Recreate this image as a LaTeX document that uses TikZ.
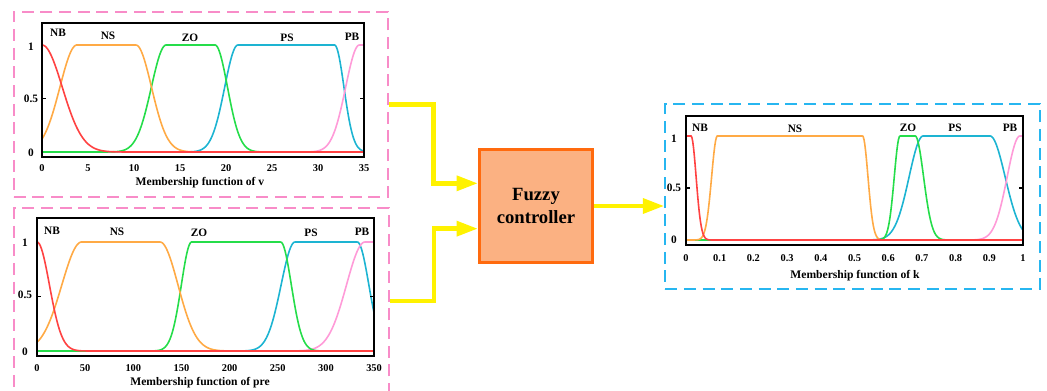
\documentclass[tikz,border=0pt]{standalone}
\usepackage{xcolor}
\usepackage{fontspec}
\setmainfont{Liberation Serif}
\usepackage{tikz}
\usetikzlibrary{arrows.meta, positioning}

\definecolor{mfred}{HTML}{FF4242}
\definecolor{mforange}{HTML}{FFAA45}
\definecolor{mfgreen}{HTML}{25DD4A}
\definecolor{mfcyan}{HTML}{1DB4D2}
\definecolor{mfpink}{HTML}{FF9BD8}
\definecolor{boxpink}{HTML}{F88CC8}
\definecolor{boxblue}{HTML}{27B6F0}
\definecolor{ctrlfill}{HTML}{FBB182}
\definecolor{ctrldraw}{HTML}{FF6A0E}

\begin{document}
\begin{tikzpicture}[x=0.75pt, y=-0.75pt,
            font=\bfseries\fontsize{8.5}{10}\selectfont,
            declare function={
              gl(\x,\cen,\sig)=(\x<\cen)*exp(-min(20,0.5*((\x-\cen)/\sig)*((\x-\cen)/\sig)))+(\x>=\cen);
              gr(\x,\cen,\sig)=(\x>\cen)*exp(-min(20,0.5*((\x-\cen)/\sig)*((\x-\cen)/\sig)))+(\x<=\cen);
              mf(\x,\lc,\ls,\rc,\rs)=gl(\x,\lc,\ls)*gr(\x,\rc,\rs);},
            panel/.style={draw, line width=1.5pt, dash pattern=on 9pt off 5pt, minimum width=281pt, minimum height=139pt, inner sep=0pt},
            frame/.style={draw=black, line width=0.9pt},
            curve/.style={line width=1.2pt},
            tick/.style={font=\bfseries\fontsize{7.8}{9}\selectfont},
            axlabel/.style={font=\bfseries\fontsize{8.7}{10}\selectfont},
            ctrl/.style={draw=ctrldraw, fill=ctrlfill, line width=2.2pt, minimum width=85pt, minimum height=85pt, align=center, font=\bfseries\fontsize{14}{17}\selectfont},
            flow/.style={draw=yellow, line width=3.3pt, -{Triangle[length=16pt, width=11pt]}}]

            \useasboundingbox (0,0) rectangle (1047,391);
            \clip (0,0) rectangle (1047,391);

            % 输入 v
            \node[panel, draw=boxpink] (vbox) at (201,104.5) {};
            \begin{scope}[xshift=31.5pt, yshift=-114pt, x=6.9pt, y=80.25pt]
                \draw[curve, mfcyan] plot[domain=0:35, samples=300] (\x,{mf(\x,21.3,1.44,31.8,1.02)});
                \draw[curve, mfpink] plot[domain=0:35, samples=300] (\x,{mf(\x,34.5,1.49,40,1)});
                \draw[curve, mfgreen] plot[domain=0:35, samples=300] (\x,{mf(\x,13.5,1.61,18.8,1.36)});
                \draw[curve, mforange] plot[domain=0:35, samples=300] (\x,{mf(\x,3.8,1.85,10.2,1.7)});
                \draw[curve, mfred] plot[domain=0:35, samples=300] (\x,{mf(\x,-1,1,0,2.2)});
            \end{scope}
            \draw[frame] (42,23) rectangle (364,157);
            \draw[frame] (42,98.5) -- (46,98.5) (364,98.5) -- (360,98.5);
            \node (vy1) at (31,47) {1};
            \node (vy2) at (31,99) {0.5};
            \node (vy3) at (31,153) {0};
            \foreach \v in {0,5,...,35}
                \node[tick] (vx\v) at ({42+9.2*\v},168) {\v};
            \node[axlabel] (vlabel) at (200,183) {Membership function of v};
            \node (vnb) at (58,33) {NB};
            \node (vns) at (108,36) {NS};
            \node (vzo) at (190,38) {ZO};
            \node (vps) at (287,38) {PS};
            \node (vpb) at (352,37) {PB};

            % 输入 pre
            \node[panel, draw=boxpink] (prebox) at (201.5,301) {};
            \begin{scope}[xshift=27.75pt, yshift=-263.25pt, x=72.225pt, y=81.75pt]
                \draw[curve, mfcyan] plot[domain=0:3.5, samples=300] (\x,{mf(\x,2.68,0.145,3.326,0.12)});
                \draw[curve, mfpink] plot[domain=0:3.5, samples=300] (\x,{mf(\x,3.406,0.192,5,1)});
                \draw[curve, mfgreen] plot[domain=0:3.5, samples=300] (\x,{mf(\x,1.606,0.107,2.53,0.111)});
                \draw[curve, mforange] plot[domain=0:3.5, samples=300] (\x,{mf(\x,0.464,0.206,1.277,0.187)});
                \draw[curve, mfred] plot[domain=0:3.5, samples=300] (\x,{mf(\x,-1,1,0,0.129)});
            \end{scope}
            \draw[frame] (37,218) rectangle (374,356);
            \draw[frame] (37,296.5) -- (41,296.5) (374,296.5) -- (370,296.5);
            \node (py1) at (25,243) {1};
            \node (py2) at (25,295) {0.5};
            \node (py3) at (25,352) {0};
            \foreach \v in {0,50,...,350}
                \node[tick] (px\v) at ({37+0.963*\v},368) {\v};
            \node[axlabel] (plabel) at (200,383) {Membership function of pre};
            \node (pnb) at (52,231) {NB};
            \node (pns) at (117,232) {NS};
            \node (pzo) at (199,233) {ZO};
            \node (pps) at (311,233) {PS};
            \node (ppb) at (362,232) {PB};

            % 控制器
            \node[ctrl] (fuzzy) at (536,206) {Fuzzy\\controller};

            % 输出 k
            \node[panel, draw=boxblue] (kbox) at (852.5,196.5) {};
            \begin{scope}[xshift=514.5pt, yshift=-180pt, x=252.75pt, y=78pt]
                \draw[curve, mfcyan] plot[domain=0:1, samples=400] (\x,{mf(\x,0.704,0.042,0.902,0.045)});
                \draw[curve, mfpink] plot[domain=0:1, samples=400] (\x,{mf(\x,0.991,0.038,2,1)});
                \draw[curve, mfgreen] plot[domain=0:1, samples=400] (\x,{mf(\x,0.635,0.017,0.68,0.025)});
                \draw[curve, mforange] plot[domain=0:1, samples=400] (\x,{mf(\x,0.093,0.017,0.524,0.016)});
                \draw[curve, mfred] plot[domain=0:1, samples=400] (\x,{mf(\x,-1,1,0.015,0.015)});
            \end{scope}
            \draw[frame] (686,116) rectangle (1023,245);
            \draw[frame] (686,188) -- (690,188) (1023,188) -- (1019,188);
            \node (ky1) at (674,139) {1};
            \node (ky2) at (674,188) {0.5};
            \node (ky3) at (674,240) {0};
            \foreach \v [count=\i] in {0,0.1,0.2,0.3,0.4,0.5,0.6,0.7,0.8,0.9,1}
                \node[tick] (kx\i) at ({686+337*\v},258) {\v};
            \node[axlabel] (klabel) at (855,276) {Membership function of k};
            \node (knb) at (700,128) {NB};
            \node (kns) at (795,129) {NS};
            \node (kzo) at (908,128) {ZO};
            \node (kps) at (955,128) {PS};
            \node (kpb) at (1010,128) {PB};

            % 连接
            \draw[flow] (vbox.east) -- ++(44,0) |- ([yshift=17pt]fuzzy.west);
            \draw[flow] (prebox.east) -- ++(44,0) |- ([yshift=-17pt]fuzzy.west);
            \draw[flow] (fuzzy.east) -- (fuzzy.east -| kbox.west);
        \end{tikzpicture}
\end{document}
